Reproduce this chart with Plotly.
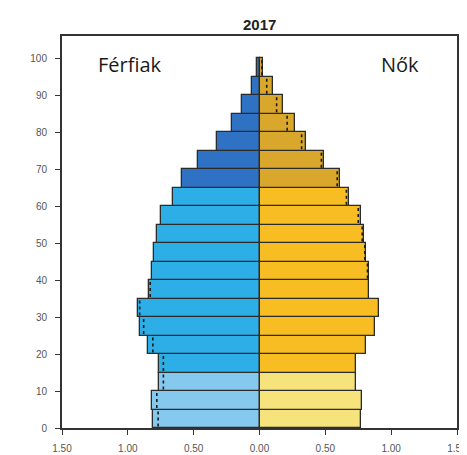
import plotly.graph_objects as go

age_start = [0, 5, 10, 15, 20, 25, 30, 35, 40, 45, 50, 55, 60, 65, 70, 75, 80, 85, 90, 95]
male = [0.81, 0.82, 0.76, 0.76, 0.85, 0.91, 0.92, 0.84, 0.82, 0.80, 0.78, 0.75, 0.66, 0.59, 0.47, 0.32, 0.21, 0.13, 0.055, 0.018]
female = [0.77, 0.78, 0.73, 0.73, 0.81, 0.88, 0.91, 0.83, 0.83, 0.81, 0.79, 0.77, 0.68, 0.61, 0.49, 0.35, 0.27, 0.18, 0.105, 0.03]
x_tickvals = [-1.5, -1.0, -0.5, 0.0, 0.5, 1.0, 1.5]
x_ticktext = ["1.50", "1.00", "0.50", "0.00", "0.50", "1.00", "1.50"]
y_tickvals = [0, 10, 20, 30, 40, 50, 60, 70, 80, 90, 100]
title_text = "2017"
label_male = "Férfiak"
label_female = "Nők"


def male_color(a):
    if a < 15:
        return "#86c9ef"
    if a < 65:
        return "#2eaee6"
    return "#2f72c4"


def female_color(a):
    if a < 15:
        return "#f6e37c"
    if a < 65:
        return "#f8bd22"
    return "#d8a72c"


centers = [a + 2.5 for a in age_start]
fig = go.Figure()
fig.add_trace(go.Bar(
    y=centers, x=[-v for v in male], orientation="h", width=5,
    marker=dict(color=[male_color(a) for a in age_start], line=dict(color="#2b2b2b", width=1.3)),
    showlegend=False, hoverinfo="skip"))
fig.add_trace(go.Bar(
    y=centers, x=female, orientation="h", width=5,
    marker=dict(color=[female_color(a) for a in age_start], line=dict(color="#2b2b2b", width=1.3)),
    showlegend=False, hoverinfo="skip"))

# dotted lines: other sex mirrored, drawn inside the longer bar
dx, dy = [], []
for a, m, f in zip(age_start, male, female):
    if m > f:
        dx += [-f, -f, None]
    else:
        dx += [m, m, None]
    dy += [a + 0.4, a + 4.6, None]
fig.add_trace(go.Scatter(x=dx, y=dy, mode="lines",
                         line=dict(color="#1a1a1a", width=1.6, dash="dot"),
                         showlegend=False, hoverinfo="skip"))

fig.update_layout(
    width=459, height=447,
    margin=dict(l=54, r=10, t=28, b=27),
    plot_bgcolor="white", paper_bgcolor="white",
    barmode="overlay", bargap=0,
    font=dict(family="Liberation Sans, Arial", size=10, color="#444"),
    annotations=[
        dict(text="<b>" + title_text + "</b>", x=0.5, y=1, xref="paper", yref="paper",
             yanchor="bottom", yshift=1, showarrow=False,
             font=dict(size=15, color="#222", family="Liberation Sans, Arial")),
        dict(text=label_male, x=-0.985, y=98.2, xref="x", yref="y", showarrow=False,
             font=dict(size=20, color="#1a1a1a", family="Open Sans"), bgcolor="white"),
        dict(text=label_female, x=1.07, y=98.2, xref="x", yref="y", showarrow=False,
             font=dict(size=20, color="#1a1a1a", family="Open Sans"), bgcolor="white"),
    ],
)
fig.update_xaxes(range=[-1.5, 1.5], tickvals=x_tickvals, ticktext=x_ticktext,
                 showgrid=False, zeroline=False, showline=True, linewidth=2,
                 linecolor="#333", mirror=True, ticks="outside", ticklen=5,
                 tickcolor="#333", tickfont=dict(size=10, color="#555"),
                 ticklabelstandoff=5, automargin=False, ticklabeloverflow="allow")
fig.update_yaxes(range=[0, 106], tickvals=y_tickvals,
                 showgrid=False, zeroline=False, showline=True, linewidth=2,
                 linecolor="#333", mirror=True, ticks="outside", ticklen=5,
                 tickcolor="#333", tickfont=dict(size=10, color="#555"),
                 ticklabelstandoff=6, automargin=False, ticklabeloverflow="allow")

fig.write_html("out.html")
